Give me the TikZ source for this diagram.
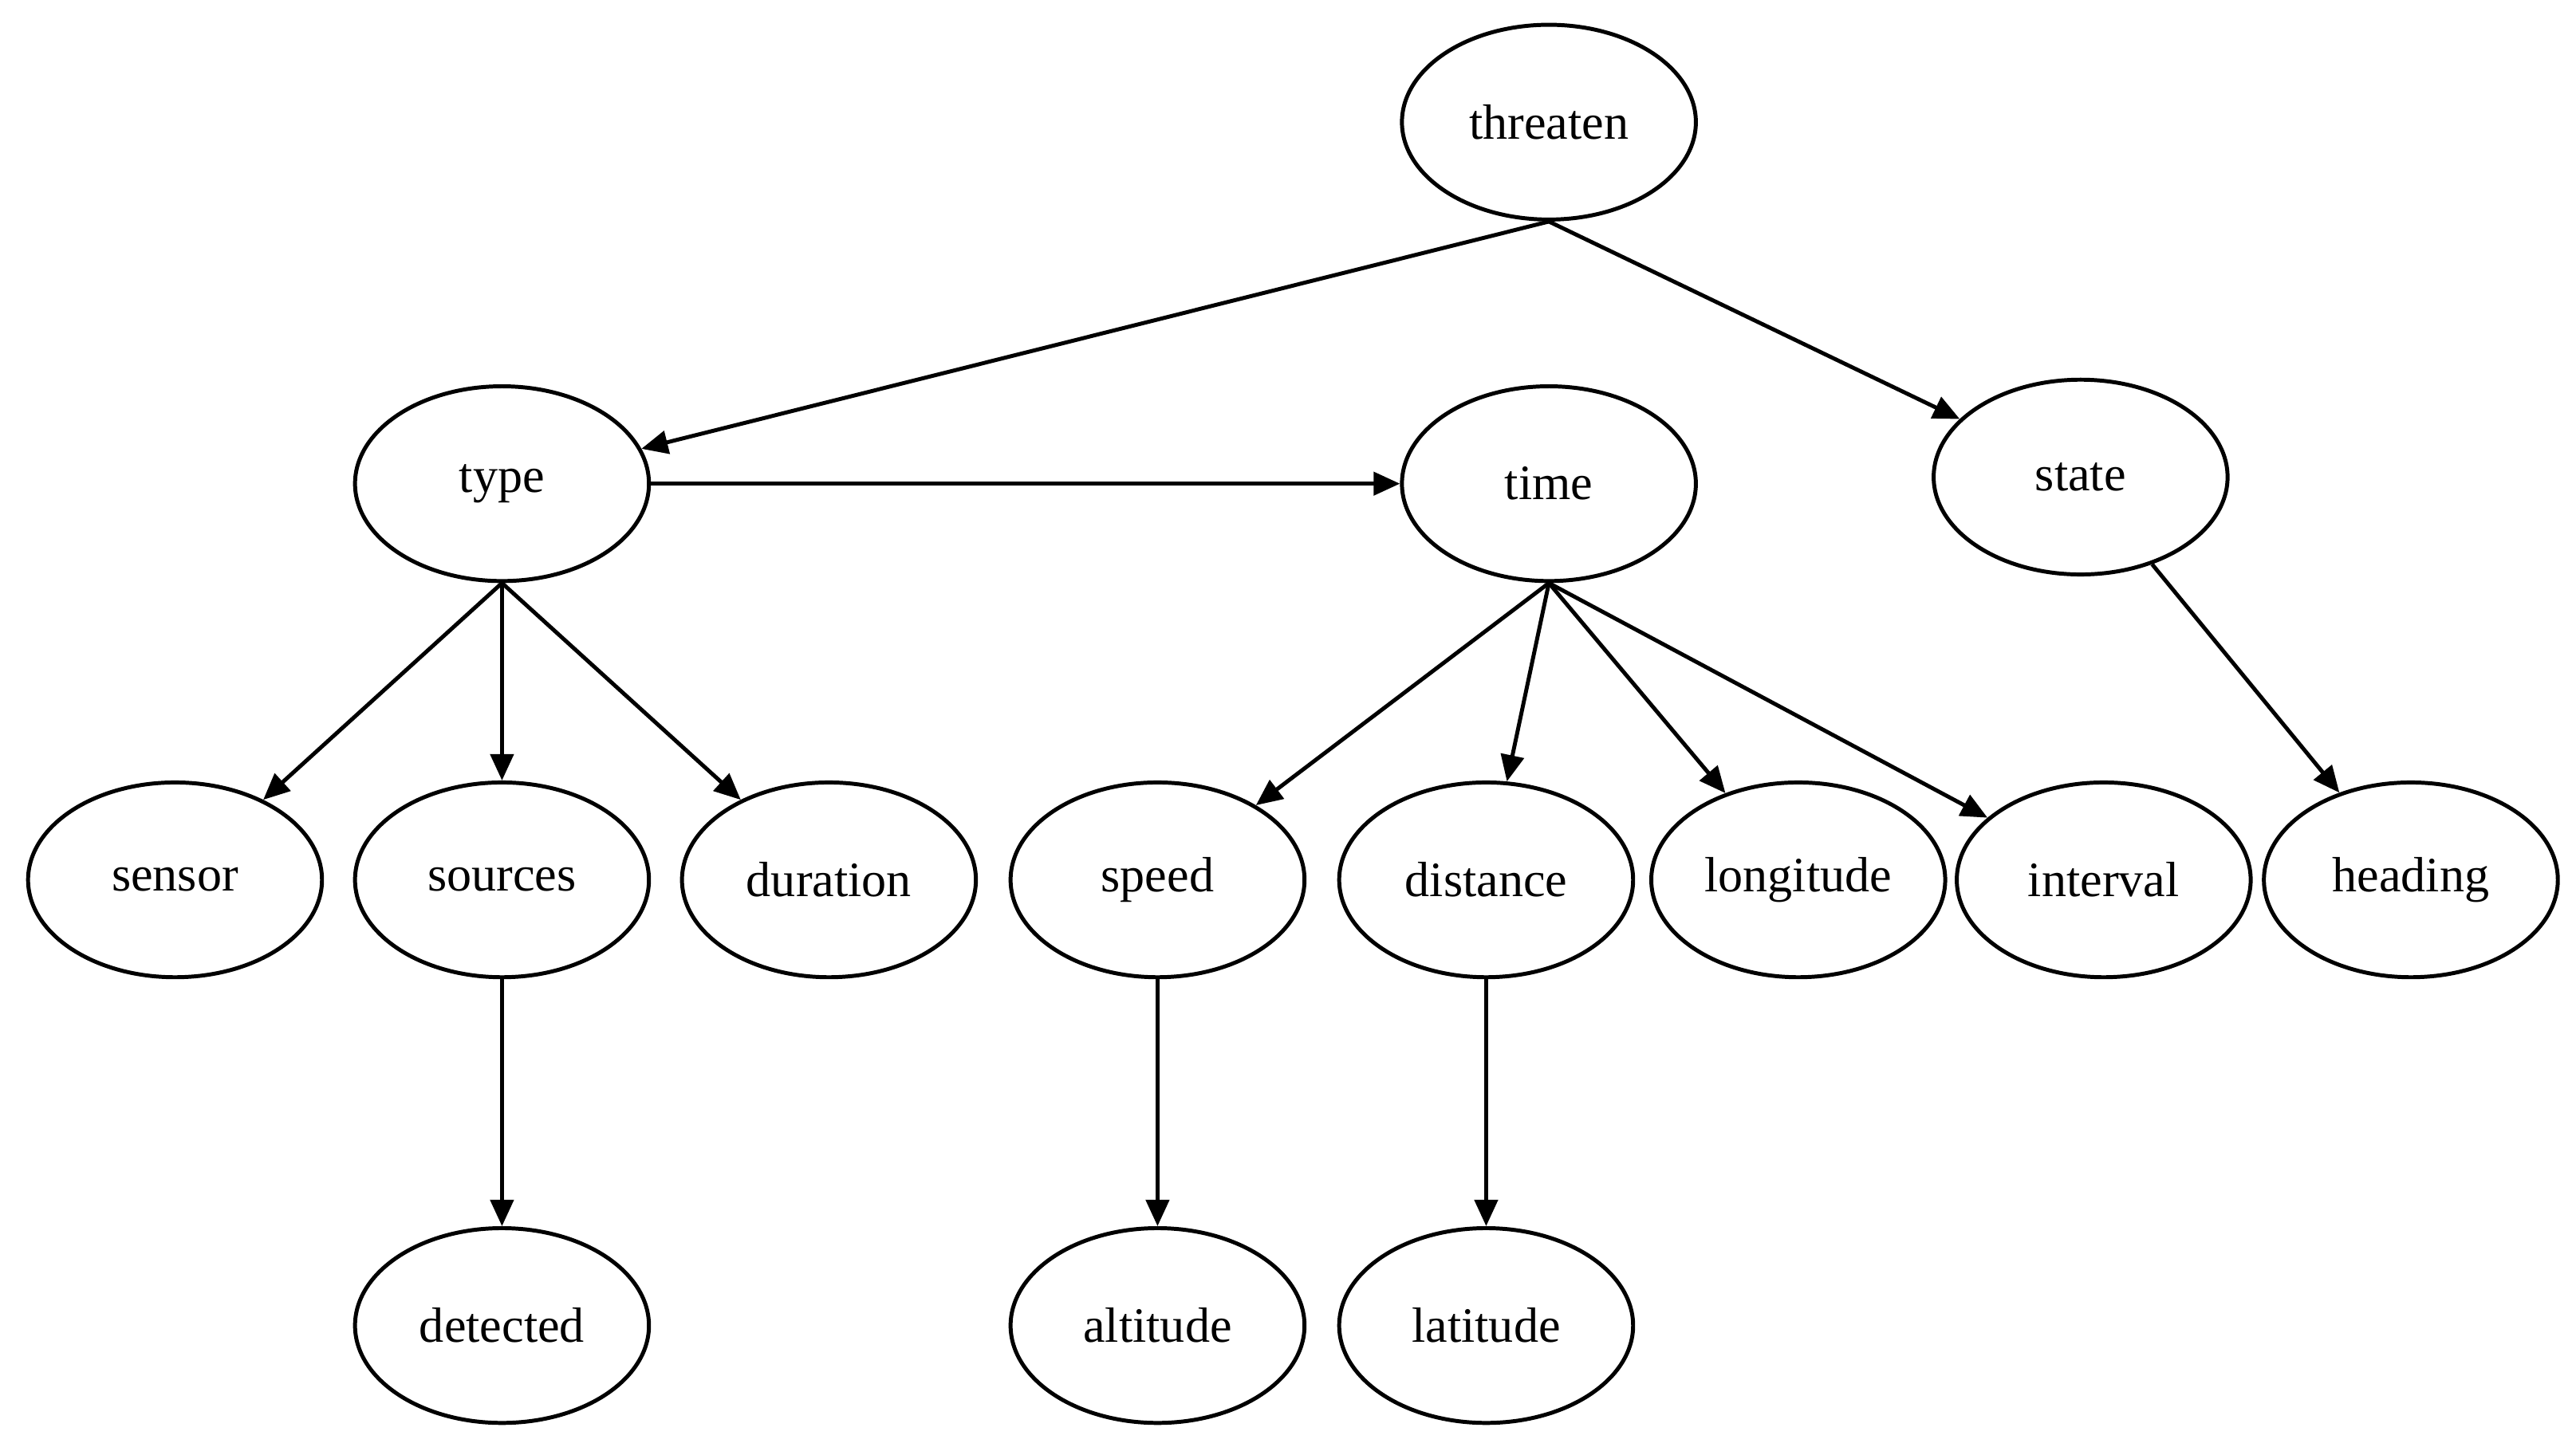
\documentclass[tikz,border=0pt]{standalone}
\usepackage{fontspec}
\setmainfont{Liberation Serif}
\usetikzlibrary{shapes.geometric,arrows.meta}
\begin{document}
\begin{tikzpicture}[x=0.5pt,y=-0.5pt,
  n/.style={draw,ellipse,line width=1.2pt,minimum width=89pt,minimum height=59pt,inner sep=0pt,font=\fontsize{15pt}{18pt}\selectfont},
  e/.style={line width=1.2pt,-{Triangle[length=8pt,width=7pt]}}]
\useasboundingbox (0,0) rectangle (1560,879);
\node[n] (threaten) at (938,74) {threaten};
\node[n] (type) at (304,293) {type};
\node[n] (time) at (938,293) {time};
\node[n] (state) at (1260,289) {state};
\node[n] (sensor) at (106,533) {sensor};
\node[n] (sources) at (304,533) {sources};
\node[n] (duration) at (502,533) {duration};
\node[n] (speed) at (701,533) {speed};
\node[n] (distance) at (900,533) {distance};
\node[n] (longitude) at (1089,533) {longitude};
\node[n] (interval) at (1274,533) {interval};
\node[n] (heading) at (1460,533) {heading};
\node[n] (detected) at (304,803) {detected};
\node[n] (altitude) at (701,803) {altitude};
\node[n] (latitude) at (900,803) {latitude};
\draw[e] (threaten.south) -- (type);
\draw[e] (threaten.south) -- (state);
\draw[e] (type) -- (time);
\draw[e] (type.south) -- (sensor);
\draw[e] (type.south) -- (sources);
\draw[e] (type.south) -- (duration);
\draw[e] (time.south) -- (speed);
\draw[e] (time.south) -- (distance);
\draw[e] (time.south) -- (longitude);
\draw[e] (time.south) -- (interval);
\draw[e] (state) -- (heading);
\draw[e] (sources) -- (detected);
\draw[e] (speed) -- (altitude);
\draw[e] (distance) -- (latitude);
\end{tikzpicture}
\end{document}
